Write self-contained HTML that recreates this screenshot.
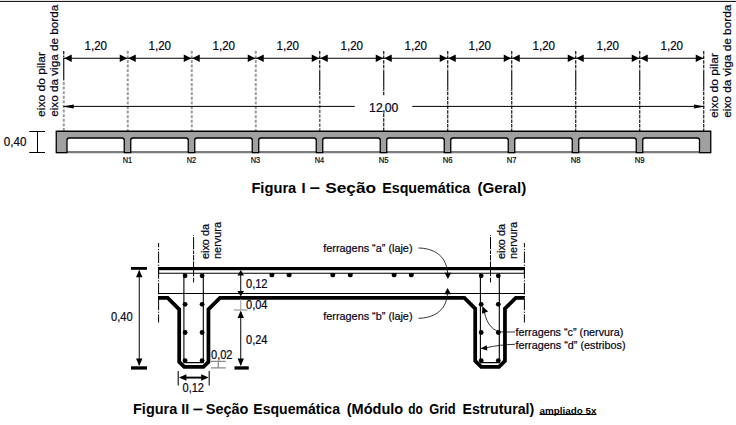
<!DOCTYPE html>
<html><head><meta charset="utf-8"><title>Figura</title>
<style>
html,body{margin:0;padding:0;background:#fff;}
body{width:736px;height:425px;overflow:hidden;font-family:"Liberation Sans",sans-serif;}
svg{display:block;}
text{font-family:"Liberation Sans",sans-serif;fill:#05051a;stroke:#05051a;stroke-width:0.22px;}
.b{font-weight:bold;fill:#000;stroke:none;}
</style></head><body>
<svg width="736" height="425" viewBox="0 0 736 425">
<rect width="736" height="425" fill="#fff"/>

<rect x="0" y="0.9" width="736" height="1" fill="#000"/>
<line x1="63.75" y1="51" x2="63.75" y2="57.5" stroke="#000" stroke-width="1.1" stroke-dasharray="3.5 1.1"/>
<line x1="63.75" y1="58" x2="63.75" y2="80.4" stroke="#000" stroke-width="1.1"/>
<line x1="63.75" y1="82" x2="63.75" y2="131" stroke="#9a9a9a" stroke-width="2" stroke-dasharray="2.9 1.7"/>
<line x1="127.75" y1="50.8" x2="127.75" y2="131" stroke="#9a9a9a" stroke-width="2" stroke-dasharray="2.9 1.7"/>
<line x1="191.75" y1="50.8" x2="191.75" y2="131" stroke="#9a9a9a" stroke-width="2" stroke-dasharray="2.9 1.7"/>
<line x1="255.75" y1="50.8" x2="255.75" y2="131" stroke="#9a9a9a" stroke-width="2" stroke-dasharray="2.9 1.7"/>
<line x1="319.75" y1="51" x2="319.75" y2="70.2" stroke="#000" stroke-width="1.1" stroke-dasharray="3.5 1.1"/>
<line x1="319.75" y1="70.2" x2="319.75" y2="87.2" stroke="#000" stroke-width="1.1"/>
<line x1="319.75" y1="87.2" x2="319.75" y2="95" stroke="#000" stroke-width="1.1" stroke-dasharray="3.5 1.1"/>
<line x1="319.75" y1="96" x2="319.75" y2="131" stroke="#6a6a6a" stroke-width="1.6" stroke-dasharray="3.1 1.5"/>
<line x1="383.75" y1="51" x2="383.75" y2="70.2" stroke="#000" stroke-width="1.1" stroke-dasharray="3.5 1.1"/>
<line x1="383.75" y1="70.2" x2="383.75" y2="87.2" stroke="#000" stroke-width="1.1"/>
<line x1="383.75" y1="87.2" x2="383.75" y2="95.9" stroke="#000" stroke-width="1.1" stroke-dasharray="3.5 1.1"/>
<line x1="383.75" y1="113.6" x2="383.75" y2="131" stroke="#000" stroke-width="1.1" stroke-dasharray="3.5 1.1"/>
<line x1="447.75" y1="51" x2="447.75" y2="70.2" stroke="#000" stroke-width="1.1" stroke-dasharray="3.5 1.1"/>
<line x1="447.75" y1="70.2" x2="447.75" y2="87.2" stroke="#000" stroke-width="1.1"/>
<line x1="447.75" y1="87.2" x2="447.75" y2="131" stroke="#000" stroke-width="1.1" stroke-dasharray="3.5 1.1"/>
<line x1="511.75" y1="51" x2="511.75" y2="70.2" stroke="#000" stroke-width="1.1" stroke-dasharray="3.5 1.1"/>
<line x1="511.75" y1="70.2" x2="511.75" y2="87.2" stroke="#000" stroke-width="1.1"/>
<line x1="511.75" y1="87.2" x2="511.75" y2="131" stroke="#000" stroke-width="1.1" stroke-dasharray="3.5 1.1"/>
<line x1="575.75" y1="51" x2="575.75" y2="70.2" stroke="#000" stroke-width="1.1" stroke-dasharray="3.5 1.1"/>
<line x1="575.75" y1="70.2" x2="575.75" y2="87.2" stroke="#000" stroke-width="1.1"/>
<line x1="575.75" y1="87.2" x2="575.75" y2="131" stroke="#000" stroke-width="1.1" stroke-dasharray="3.5 1.1"/>
<line x1="639.75" y1="51" x2="639.75" y2="70.2" stroke="#000" stroke-width="1.1" stroke-dasharray="3.5 1.1"/>
<line x1="639.75" y1="70.2" x2="639.75" y2="87.2" stroke="#000" stroke-width="1.1"/>
<line x1="639.75" y1="87.2" x2="639.75" y2="131" stroke="#000" stroke-width="1.1" stroke-dasharray="3.5 1.1"/>
<line x1="703.75" y1="51" x2="703.75" y2="70.2" stroke="#000" stroke-width="1.1" stroke-dasharray="3.5 1.1"/>
<line x1="703.75" y1="70.2" x2="703.75" y2="87.2" stroke="#000" stroke-width="1.1"/>
<line x1="703.75" y1="87.2" x2="703.75" y2="131" stroke="#000" stroke-width="1.1" stroke-dasharray="3.5 1.1"/>
<line x1="63.75" y1="58.25" x2="703.75" y2="58.25" stroke="#000" stroke-width="1"/>
<path d="M64.25,58.25 l7.5,-3.7 v7.4 z" fill="#000"/>
<path d="M128.25,58.25 l7.5,-3.7 v7.4 z" fill="#000"/>
<path d="M127.25,58.25 l-7.5,-3.7 v7.4 z" fill="#000"/>
<path d="M192.25,58.25 l7.5,-3.7 v7.4 z" fill="#000"/>
<path d="M191.25,58.25 l-7.5,-3.7 v7.4 z" fill="#000"/>
<path d="M256.25,58.25 l7.5,-3.7 v7.4 z" fill="#000"/>
<path d="M255.25,58.25 l-7.5,-3.7 v7.4 z" fill="#000"/>
<path d="M320.25,58.25 l7.5,-3.7 v7.4 z" fill="#000"/>
<path d="M319.25,58.25 l-7.5,-3.7 v7.4 z" fill="#000"/>
<path d="M384.25,58.25 l7.5,-3.7 v7.4 z" fill="#000"/>
<path d="M383.25,58.25 l-7.5,-3.7 v7.4 z" fill="#000"/>
<path d="M448.25,58.25 l7.5,-3.7 v7.4 z" fill="#000"/>
<path d="M447.25,58.25 l-7.5,-3.7 v7.4 z" fill="#000"/>
<path d="M512.25,58.25 l7.5,-3.7 v7.4 z" fill="#000"/>
<path d="M511.25,58.25 l-7.5,-3.7 v7.4 z" fill="#000"/>
<path d="M576.25,58.25 l7.5,-3.7 v7.4 z" fill="#000"/>
<path d="M575.25,58.25 l-7.5,-3.7 v7.4 z" fill="#000"/>
<path d="M640.25,58.25 l7.5,-3.7 v7.4 z" fill="#000"/>
<path d="M639.25,58.25 l-7.5,-3.7 v7.4 z" fill="#000"/>
<path d="M703.25,58.25 l-7.5,-3.7 v7.4 z" fill="#000"/>
<text x="95.75" y="50" font-size="12" text-anchor="middle" textLength="22.5" lengthAdjust="spacingAndGlyphs">1,20</text>
<text x="159.75" y="50" font-size="12" text-anchor="middle" textLength="22.5" lengthAdjust="spacingAndGlyphs">1,20</text>
<text x="223.75" y="50" font-size="12" text-anchor="middle" textLength="22.5" lengthAdjust="spacingAndGlyphs">1,20</text>
<text x="287.75" y="50" font-size="12" text-anchor="middle" textLength="22.5" lengthAdjust="spacingAndGlyphs">1,20</text>
<text x="351.75" y="50" font-size="12" text-anchor="middle" textLength="22.5" lengthAdjust="spacingAndGlyphs">1,20</text>
<text x="415.75" y="50" font-size="12" text-anchor="middle" textLength="22.5" lengthAdjust="spacingAndGlyphs">1,20</text>
<text x="479.75" y="50" font-size="12" text-anchor="middle" textLength="22.5" lengthAdjust="spacingAndGlyphs">1,20</text>
<text x="543.75" y="50" font-size="12" text-anchor="middle" textLength="22.5" lengthAdjust="spacingAndGlyphs">1,20</text>
<text x="607.75" y="50" font-size="12" text-anchor="middle" textLength="22.5" lengthAdjust="spacingAndGlyphs">1,20</text>
<text x="671.75" y="50" font-size="12" text-anchor="middle" textLength="22.5" lengthAdjust="spacingAndGlyphs">1,20</text>
<line x1="63.75" y1="106.4" x2="354.75" y2="106.4" stroke="#000" stroke-width="1"/>
<line x1="412.25" y1="106.4" x2="703.75" y2="106.4" stroke="#000" stroke-width="1"/>
<path d="M62.45,106.4 l11.3,-2 v4 z" fill="#000"/>
<path d="M705.25,106.4 l-11.3,-2 v4 z" fill="#000"/>
<text x="369.1" y="111.8" font-size="12.2" dx="0 0 -0.7 -0.7 0">12,00</text>
<line x1="56.25" y1="152.1" x2="710.75" y2="152.1" stroke="#7c7c7c" stroke-width="2.1"/>
<path d="M56.25,131.25 H710.75 V152.6 H699.5 V140.2 Q699.5,138.0 697.3,138.0 H644.95 Q642.75,138.0 642.75,140.2 V152.6 H636.25 V140.2 Q636.25,138.0 634.05,138.0 H580.95 Q578.75,138.0 578.75,140.2 V152.6 H572.25 V140.2 Q572.25,138.0 570.05,138.0 H516.95 Q514.75,138.0 514.75,140.2 V152.6 H508.25 V140.2 Q508.25,138.0 506.05,138.0 H452.95 Q450.75,138.0 450.75,140.2 V152.6 H444.25 V140.2 Q444.25,138.0 442.05,138.0 H388.95 Q386.75,138.0 386.75,140.2 V152.6 H380.25 V140.2 Q380.25,138.0 378.05,138.0 H324.95 Q322.75,138.0 322.75,140.2 V152.6 H316.25 V140.2 Q316.25,138.0 314.05,138.0 H260.95 Q258.75,138.0 258.75,140.2 V152.6 H252.25 V140.2 Q252.25,138.0 250.05,138.0 H196.95 Q194.75,138.0 194.75,140.2 V152.6 H188.25 V140.2 Q188.25,138.0 186.05,138.0 H132.95 Q130.75,138.0 130.75,140.2 V152.6 H124.25 V140.2 Q124.25,138.0 122.05,138.0 H69.2 Q67,138.0 67,140.2 V152.6 H56.25 Z" fill="#a0a0a0" stroke="#000" stroke-width="1.3" stroke-linejoin="miter"/>
<text x="3.75" y="146" font-size="12" textLength="22.6" lengthAdjust="spacingAndGlyphs">0,40</text>
<path d="M29.25,131.5 H45 M29.25,152.5 H45 M37.5,131.5 V152.5" stroke="#000" stroke-width="1" fill="none"/>
<text x="127.35" y="162.9" font-size="8.7" text-anchor="middle" textLength="9.4" lengthAdjust="spacingAndGlyphs" stroke="#0a0a14" stroke-width="0.5">N1</text>
<text x="191.35000000000002" y="162.9" font-size="8.7" text-anchor="middle" textLength="9.4" lengthAdjust="spacingAndGlyphs" stroke="#0a0a14" stroke-width="0.5">N2</text>
<text x="255.35000000000002" y="162.9" font-size="8.7" text-anchor="middle" textLength="9.4" lengthAdjust="spacingAndGlyphs" stroke="#0a0a14" stroke-width="0.5">N3</text>
<text x="319.35" y="162.9" font-size="8.7" text-anchor="middle" textLength="9.4" lengthAdjust="spacingAndGlyphs" stroke="#0a0a14" stroke-width="0.5">N4</text>
<text x="383.65000000000003" y="162.9" font-size="8.7" text-anchor="middle" textLength="9.8" lengthAdjust="spacingAndGlyphs" stroke="#0a0a14" stroke-width="0.25">N5</text>
<text x="447.65000000000003" y="162.9" font-size="8.7" text-anchor="middle" textLength="9.8" lengthAdjust="spacingAndGlyphs" stroke="#0a0a14" stroke-width="0.25">N6</text>
<text x="511.65000000000003" y="162.9" font-size="8.7" text-anchor="middle" textLength="9.8" lengthAdjust="spacingAndGlyphs" stroke="#0a0a14" stroke-width="0.25">N7</text>
<text x="575.65" y="162.9" font-size="8.7" text-anchor="middle" textLength="9.8" lengthAdjust="spacingAndGlyphs" stroke="#0a0a14" stroke-width="0.25">N8</text>
<text x="639.65" y="162.9" font-size="8.7" text-anchor="middle" textLength="9.8" lengthAdjust="spacingAndGlyphs" stroke="#0a0a14" stroke-width="0.25">N9</text>
<text transform="translate(45.4,117) rotate(-90)" font-size="11.2" textLength="65" lengthAdjust="spacingAndGlyphs">eixo do pilar</text>
<text transform="translate(57.6,116.8) rotate(-90)" font-size="11.2" textLength="112" lengthAdjust="spacingAndGlyphs">eixo da viga de borda</text>
<text transform="translate(717.7,118) rotate(-90)" font-size="11.2" textLength="65" lengthAdjust="spacingAndGlyphs">eixo do pilar</text>
<text transform="translate(731.3,117.8) rotate(-90)" font-size="11.2" textLength="113.2" lengthAdjust="spacingAndGlyphs">eixo da viga de borda</text>
<text class="b" font-size="14.8" y="193"><tspan x="251.40" textLength="44.90" lengthAdjust="spacingAndGlyphs">Figura</tspan><tspan x="301.60">I</tspan><tspan x="325.20" textLength="50.90" lengthAdjust="spacingAndGlyphs">Seção</tspan><tspan x="382.20" textLength="88.10" lengthAdjust="spacingAndGlyphs">Esquemática</tspan><tspan x="477.40" textLength="48.90" lengthAdjust="spacingAndGlyphs">(Geral)</tspan></text>
<rect x="310.3" y="187.3" width="9.1" height="1.7" fill="#000"/>
<line x1="158.6" y1="243" x2="158.6" y2="322.5" stroke="#000" stroke-width="1" stroke-dasharray="11.5 1.6 1.2 1.4" stroke-dashoffset="7.2"/>
<line x1="524.4" y1="243" x2="524.4" y2="322.5" stroke="#000" stroke-width="1" stroke-dasharray="11.5 1.6 1.2 1.4" stroke-dashoffset="7.2"/>
<path d="M193.6,235 V235.7 M193.6,237 V249.4 M193.6,250.6 V254 M193.6,255 V260.4 M193.6,261.4 V267" stroke="#000" stroke-width="1" fill="none"/>
<path d="M193.6,270 V276.3 M193.6,277.8 V282.4" stroke="#000" stroke-width="1" fill="none"/>
<path d="M490.5,235 V235.7 M490.5,237 V249.4 M490.5,250.6 V254 M490.5,255 V260.4 M490.5,261.4 V267" stroke="#000" stroke-width="1" fill="none"/>
<path d="M490.5,270 V276.3 M490.5,277.8 V282.4" stroke="#000" stroke-width="1" fill="none"/>
<path d="M158.6,267 V273.5 M524.4,267 V273.5" stroke="#000" stroke-width="1" fill="none"/>
<rect x="158" y="267" width="366.6" height="3.2" fill="#000"/>
<line x1="158" y1="273.3" x2="524.5" y2="273.3" stroke="#000" stroke-width="1.1"/>
<line x1="158" y1="293.5" x2="524.5" y2="293.5" stroke="#000" stroke-width="1.1"/>
<path d="M158,297.85 L167.7,297.85 L179.2,309.35 L179.2,361.95 L184.2,366.95 L203.45,366.95 L208.45,361.95 L208.45,309.35 L219.95,297.85 L464.4,297.85 L475.2,308.65000000000003 L475.2,360.95 L481.2,366.95 L498.95,366.95 L504.95,360.95 L504.95,308.65000000000003 L515.75,297.85 L524.6,297.85" fill="none" stroke="#000" stroke-width="3.75" stroke-linejoin="miter"/>
<path d="M183.9,273.3 V362.6 H203.3 V273.3" fill="none" stroke="#000" stroke-width="1.1"/>
<circle cx="185.1" cy="275.8" r="2.4" fill="#000"/>
<circle cx="202.10000000000002" cy="275.8" r="2.4" fill="#000"/>
<circle cx="185.1" cy="304.3" r="2.4" fill="#000"/>
<circle cx="202.10000000000002" cy="304.3" r="2.4" fill="#000"/>
<circle cx="185.1" cy="332.5" r="2.4" fill="#000"/>
<circle cx="202.10000000000002" cy="332.5" r="2.4" fill="#000"/>
<circle cx="185.1" cy="360.6" r="2.4" fill="#000"/>
<circle cx="202.10000000000002" cy="360.6" r="2.4" fill="#000"/>
<path d="M480.4,273.3 V362.6 H499.3 V273.3" fill="none" stroke="#000" stroke-width="1.1"/>
<circle cx="481.2" cy="275.8" r="2.4" fill="#000"/>
<circle cx="498.3" cy="275.8" r="2.4" fill="#000"/>
<circle cx="481.2" cy="304.3" r="2.4" fill="#000"/>
<circle cx="498.3" cy="304.3" r="2.4" fill="#000"/>
<circle cx="481.2" cy="332.5" r="2.4" fill="#000"/>
<circle cx="498.3" cy="332.5" r="2.4" fill="#000"/>
<circle cx="481.2" cy="360.6" r="2.4" fill="#000"/>
<circle cx="498.3" cy="360.6" r="2.4" fill="#000"/>
<path d="M269.5,273 h4.8 v2.3 a1.9,1.9 0 0 1 -1.9,1.9 h-1 a1.9,1.9 0 0 1 -1.9,-1.9 z" fill="#000"/>
<path d="M286.70000000000005,273 h4.8 v2.3 a1.9,1.9 0 0 1 -1.9,1.9 h-1 a1.9,1.9 0 0 1 -1.9,-1.9 z" fill="#000"/>
<path d="M330.40000000000003,273 h4.8 v2.3 a1.9,1.9 0 0 1 -1.9,1.9 h-1 a1.9,1.9 0 0 1 -1.9,-1.9 z" fill="#000"/>
<path d="M347.90000000000003,273 h4.8 v2.3 a1.9,1.9 0 0 1 -1.9,1.9 h-1 a1.9,1.9 0 0 1 -1.9,-1.9 z" fill="#000"/>
<path d="M391.70000000000005,273 h4.8 v2.3 a1.9,1.9 0 0 1 -1.9,1.9 h-1 a1.9,1.9 0 0 1 -1.9,-1.9 z" fill="#000"/>
<path d="M408.90000000000003,273 h4.8 v2.3 a1.9,1.9 0 0 1 -1.9,1.9 h-1 a1.9,1.9 0 0 1 -1.9,-1.9 z" fill="#000"/>
<rect x="131" y="267" width="16" height="2.8" fill="#000"/>
<rect x="131" y="366.3" width="16" height="3.3" fill="#000"/>
<line x1="139.25" y1="271" x2="139.25" y2="365" stroke="#000" stroke-width="1"/>
<path d="M139.25,269.8 l-3.2,7.5 h6.4 z" fill="#000"/>
<path d="M139.25,366 l-3.2,-7.5 h6.4 z" fill="#000"/>
<text x="111" y="321.3" font-size="12" textLength="21.6" lengthAdjust="spacingAndGlyphs">0,40</text>
<line x1="240.75" y1="271" x2="240.75" y2="295" stroke="#000" stroke-width="1"/>
<path d="M240.75,270 l-3.3,5.5 h6.6 z" fill="#000"/>
<path d="M240.75,296.6 l-3.3,-5.5 h6.6 z" fill="#000"/>
<text x="246" y="287.6" font-size="12" textLength="21.5" lengthAdjust="spacingAndGlyphs">0,12</text>
<line x1="240.75" y1="299" x2="240.75" y2="310" stroke="#999" stroke-width="1"/>
<line x1="233.75" y1="310" x2="247.5" y2="310" stroke="#999" stroke-width="1.2"/>
<text x="246" y="308.8" font-size="12" textLength="21.5" lengthAdjust="spacingAndGlyphs">0,04</text>
<line x1="240.75" y1="312" x2="240.75" y2="365" stroke="#000" stroke-width="1"/>
<path d="M240.75,310.6 l-3.2,7.5 h6.4 z" fill="#000"/>
<path d="M240.75,366 l-3.2,-7.5 h6.4 z" fill="#000"/>
<rect x="234.5" y="366.3" width="14.25" height="3.3" fill="#000"/>
<text x="246" y="343.8" font-size="12" textLength="21.5" lengthAdjust="spacingAndGlyphs">0,24</text>
<text x="211" y="358.6" font-size="12" textLength="21.5" lengthAdjust="spacingAndGlyphs">0,02</text>
<path d="M211,361.4 H225.8 M211,367.8 H225.8 M218.3,361.4 V367.8" stroke="#8a8a8a" stroke-width="1.3" fill="none"/>
<path d="M178.25,371 V385.4 M209.25,371 V385.4" stroke="#333" stroke-width="1.3" fill="none"/>
<line x1="182" y1="377.6" x2="206" y2="377.6" stroke="#000" stroke-width="1.9"/>
<path d="M178.9,377.5 l7.5,-3.2 v6.4 z" fill="#000"/>
<path d="M208.7,377.5 l-7.5,-3.2 v6.4 z" fill="#000"/>
<text x="182.5" y="391.6" font-size="12" textLength="21.5" lengthAdjust="spacingAndGlyphs">0,12</text>
<text x="323.25" y="251.8" font-size="11.5" textLength="89.25" lengthAdjust="spacingAndGlyphs">ferragens “a” (laje)</text>
<text x="323.25" y="320" font-size="11.5" textLength="89.25" lengthAdjust="spacingAndGlyphs">ferragens “b” (laje)</text>
<text x="515.5" y="336.3" font-size="11.5" textLength="107.75" lengthAdjust="spacingAndGlyphs">ferragens “c” (nervura)</text>
<text x="515.5" y="349.3" font-size="11.5" textLength="110" lengthAdjust="spacingAndGlyphs">ferragens “d” (estribos)</text>
<path d="M418.5,248 C432,248.3 446,254 447.7,273" fill="none" stroke="#111" stroke-width="0.85"/>
<path d="M447.9,279 l-3.4,-6.3 h6.8 z" fill="#000"/>
<path d="M418.5,318.3 C432,318 446,312 447.5,294" fill="none" stroke="#111" stroke-width="0.85"/>
<path d="M447.6,288 l-3.4,6.3 h6.8 z" fill="#000"/>
<path d="M515,332 H503 C494,332 486.8,325 484.4,312" fill="none" stroke="#111" stroke-width="0.85"/>
<path d="M482.3,306 l5.8,5.6 l-6,2.2 z" fill="#000"/>
<path d="M515,344.3 C505,344.5 496,345.6 486.3,347.7" fill="none" stroke="#111" stroke-width="0.85"/>
<path d="M480.4,348.6 l6.3,-3.3 l0.7,5.3 z" fill="#000"/>
<text transform="translate(208.7,259) rotate(-90)" font-size="11.2" textLength="35" lengthAdjust="spacingAndGlyphs">eixo da</text>
<text transform="translate(220.6,259) rotate(-90)" font-size="11.2" textLength="37" lengthAdjust="spacingAndGlyphs">nervura</text>
<text transform="translate(504.5,259) rotate(-90)" font-size="11.2" textLength="35" lengthAdjust="spacingAndGlyphs">eixo da</text>
<text transform="translate(517.3,259) rotate(-90)" font-size="11.2" textLength="37" lengthAdjust="spacingAndGlyphs">nervura</text>
<text class="b" font-size="14.3" y="414.2"><tspan x="133.00" textLength="44.30" lengthAdjust="spacingAndGlyphs">Figura</tspan><tspan x="181.20">II</tspan><tspan x="205.80" textLength="42.60" lengthAdjust="spacingAndGlyphs">Seção</tspan><tspan x="253.30" textLength="86.70" lengthAdjust="spacingAndGlyphs">Esquemática</tspan><tspan x="346.70" textLength="56.50" lengthAdjust="spacingAndGlyphs">(Módulo</tspan><tspan x="408.20" textLength="14.50" lengthAdjust="spacingAndGlyphs">do</tspan><tspan x="429.20" textLength="26.50" lengthAdjust="spacingAndGlyphs">Grid</tspan><tspan x="462.50" textLength="71.70" lengthAdjust="spacingAndGlyphs">Estrutural)</tspan></text>
<rect x="193.4" y="408.6" width="9" height="1.7" fill="#000"/>
<text class="b" x="539.5" y="413.5" font-size="9.6" textLength="57" lengthAdjust="spacingAndGlyphs">ampliado 5x</text>
<rect x="539.5" y="414" width="57" height="1" fill="#000"/>
</svg></body></html>
